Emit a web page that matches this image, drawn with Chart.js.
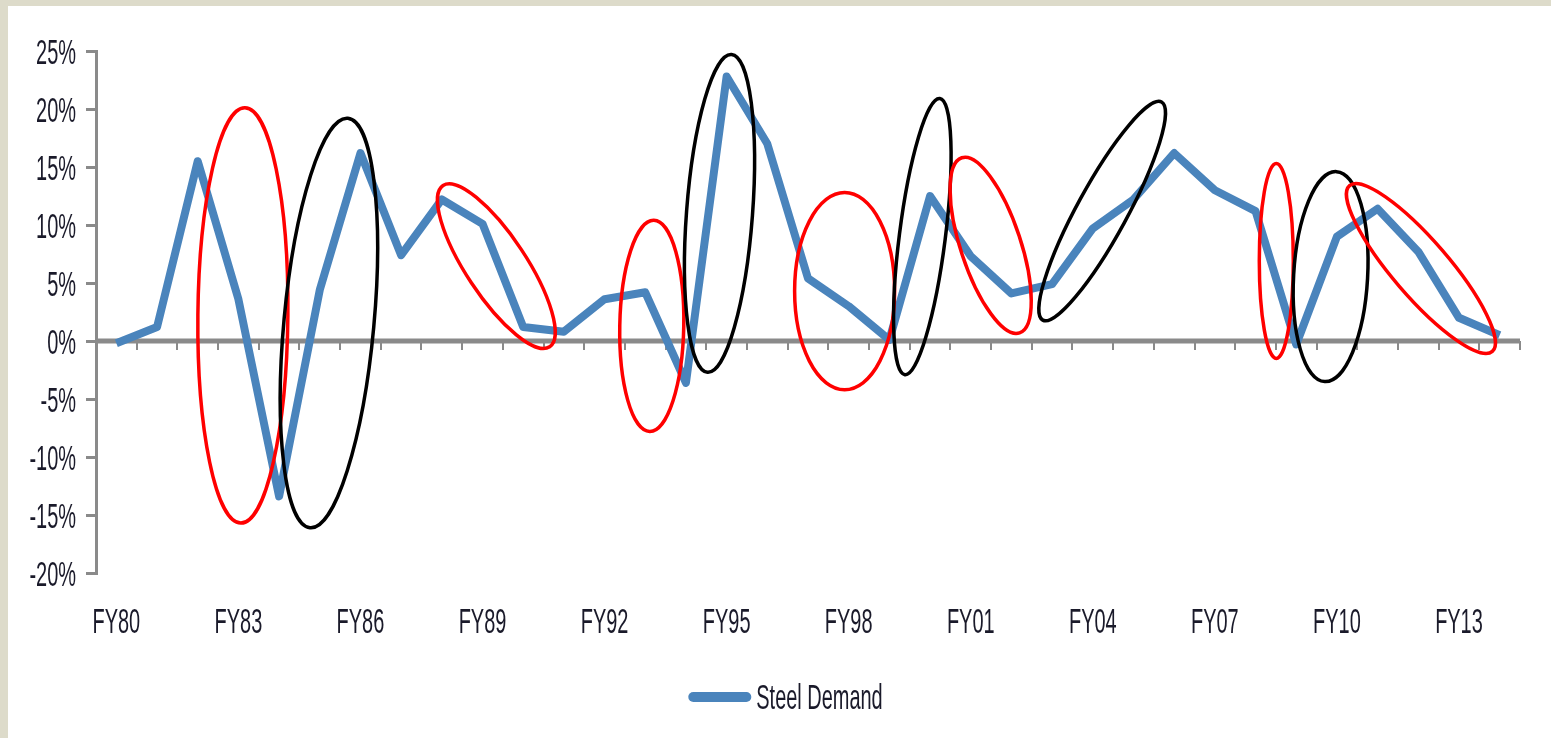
<!DOCTYPE html>
<html>
<head>
<meta charset="utf-8">
<script src="https://cdn.jsdelivr.net/npm/chart.js@4.4.1/dist/chart.umd.min.js"></script>
<style>
  html, body { margin: 0; padding: 0; background: #dddbca; overflow: hidden; }
  #panel { position: absolute; left: 8px; top: 6px; width: 1543px; height: 732px; background: #fff; }
</style>
</head>
<body>
<div id="panel"><canvas id="chart"></canvas></div>
<script>
// fiscal years on the x axis
const years = ['FY80', 'FY81', 'FY82', 'FY83', 'FY84', 'FY85', 'FY86', 'FY87', 'FY88', 'FY89',
  'FY90', 'FY91', 'FY92', 'FY93', 'FY94', 'FY95', 'FY96', 'FY97', 'FY98', 'FY99',
  'FY00', 'FY01', 'FY02', 'FY03', 'FY04', 'FY05', 'FY06', 'FY07', 'FY08', 'FY09',
  'FY10', 'FY11', 'FY12', 'FY13', 'FY14'];

// steel demand growth, % yoy
const steelDemand = [-0.2, 1.2, 15.5, 3.6, -13.4, 4.4, 16.2, 7.4, 12.2, 10.1,
  1.2, 0.8, 3.6, 4.2, -3.6, 22.8, 17.0, 5.4, 3.0, 0.1,
  12.5, 7.3, 4.1, 4.9, 9.7, 12.2, 16.2, 13.0, 11.2, -0.3,
  9.0, 11.4, 7.7, 2.0, 0.5];

const yMin = -20;
const yMax = 25;
const yStep = 5;
const labelEvery = 3;

// hand drawn rings: major axis from [category index, %] to [category index, %]
const ringFrom = [[3.16, 20.1], [5.69, 19.2], [8.03, 13.4], [13.21, 10.4], [15.12, 24.7], [17.9, 12.8],
  [20.24, 20.9], [20.78, 15.8], [25.69, 20.6], [28.51, 15.3], [29.99, 14.6], [30.31, 13.4]];
const ringTo = [[3.06, -15.7], [4.76, -16.1], [10.65, -0.5], [13.11, -7.8], [14.53, -2.7], [17.9, -4.2],
  [19.38, -2.9], [22.2, 0.7], [22.77, 1.8], [28.51, -1.5], [29.7, -3.5], [33.82, -0.9]];
const ringHalfWidth = [45, 45, 30, 32, 33, 50, 23, 30, 25, 17, 37, 28];
const ringColor = ['red', 'black', 'red', 'red', 'black', 'red', 'black', 'red', 'black', 'red', 'black', 'red'];

const BLUE = '#4a84bc';
const GREY = '#8a8a8a';
const TEXT = '#1a1a2a';
// the original uses a tall narrow face, so the text is squeezed sideways
const LABEL_FONT = '35px "Liberation Sans", Arial, sans-serif';
const SQUEEZE = 0.57;

function squeezedText(ctx, text, x, y, align) {
  ctx.save();
  ctx.translate(x, y);
  ctx.scale(SQUEEZE, 1);
  ctx.font = LABEL_FONT;
  ctx.fillStyle = TEXT;
  ctx.textAlign = align;
  ctx.textBaseline = 'alphabetic';
  ctx.fillText(text, 0, 0);
  ctx.restore();
}

// zero line with its small category ticks
const zeroAxis = {
  id: 'zeroAxis',
  beforeDatasetsDraw(chart) {
    const { ctx, chartArea, scales } = chart;
    const y0 = scales.y.getPixelForValue(0);
    const step = scales.x.getPixelForValue(1) - scales.x.getPixelForValue(0);
    ctx.save();
    ctx.strokeStyle = GREY;
    ctx.lineWidth = 2;
    ctx.beginPath();
    for (let i = 0; i <= years.length; i++) {
      const x = Math.round(scales.x.getPixelForValue(i) - step / 2);
      ctx.moveTo(x, y0);
      ctx.lineTo(x, y0 + 9);
    }
    ctx.stroke();
    ctx.lineWidth = 5;
    ctx.beginPath();
    ctx.moveTo(chartArea.left, y0);
    ctx.lineTo(chartArea.right, y0);
    ctx.stroke();
    ctx.restore();
  }
};

const rings = {
  id: 'rings',
  afterDatasetsDraw(chart) {
    const { ctx, scales } = chart;
    ctx.save();
    ctx.lineWidth = 3.5;
    ringFrom.forEach((a, i) => {
      const b = ringTo[i];
      const x1 = scales.x.getPixelForValue(a[0]), y1 = scales.y.getPixelForValue(a[1]);
      const x2 = scales.x.getPixelForValue(b[0]), y2 = scales.y.getPixelForValue(b[1]);
      const half = Math.hypot(x2 - x1, y2 - y1) / 2;
      ctx.strokeStyle = ringColor[i];
      ctx.beginPath();
      ctx.ellipse((x1 + x2) / 2, (y1 + y2) / 2, half, ringHalfWidth[i], Math.atan2(y2 - y1, x2 - x1), 0, Math.PI * 2);
      ctx.stroke();
    });
    ctx.restore();
  }
};

// tick labels and legend, drawn with the squeezed face
const labels = {
  id: 'labels',
  afterDraw(chart) {
    const { ctx, chartArea, scales } = chart;
    scales.y.ticks.forEach(t => {
      squeezedText(ctx, t.label, chartArea.left - 20, scales.y.getPixelForValue(t.value) + 12.5, 'right');
    });
    scales.x.ticks.forEach((t, i) => {
      if (t.label) squeezedText(ctx, t.label, scales.x.getPixelForTick(i), chartArea.bottom + 60, 'center');
    });

    const ds = chart.data.datasets[0];
    ctx.save();
    ctx.font = LABEL_FONT;
    const textW = ctx.measureText(ds.label).width * SQUEEZE;
    ctx.restore();
    const sampleW = 63, gap = 5;
    const left = chart.width / 2 + 6 - (sampleW + gap + textW) / 2;
    const cy = chartArea.bottom + 124;
    ctx.save();
    ctx.strokeStyle = ds.borderColor;
    ctx.lineWidth = 10;
    ctx.lineCap = 'round';
    ctx.beginPath();
    ctx.moveTo(left + 5, cy);
    ctx.lineTo(left + sampleW - 5, cy);
    ctx.stroke();
    ctx.restore();
    squeezedText(ctx, ds.label, left + sampleW + gap, cy + 12, 'left');
  }
};

new Chart(document.getElementById('chart'), {
  type: 'line',
  data: {
    labels: years,
    datasets: [{
      label: 'Steel Demand',
      data: steelDemand,
      borderColor: BLUE,
      backgroundColor: BLUE,
      borderWidth: 8,
      pointRadius: 0,
      tension: 0,
      borderJoinStyle: 'round',
      borderCapStyle: 'butt'
    }]
  },
  options: {
    responsive: true,
    maintainAspectRatio: false,
    animation: false,
    layout: { padding: { top: 45, right: 31, left: 0, bottom: 0 } },
    plugins: {
      tooltip: { enabled: false },
      legend: { display: false }
    },
    scales: {
      x: {
        offset: true,
        grid: { display: false, drawTicks: false },
        border: { display: false },
        ticks: {
          display: false,
          autoSkip: false,
          maxRotation: 0,
          callback(v, i) { return i % labelEvery === 0 ? years[i] : ''; }
        },
        afterFit(scale) { scale.height = 165; }
      },
      y: {
        min: yMin,
        max: yMax,
        grid: { drawOnChartArea: false, drawTicks: true, tickLength: 10, color: GREY, lineWidth: 3 },
        border: { display: true, color: GREY, width: 3 },
        ticks: {
          display: false,
          stepSize: yStep,
          callback(v) { return v + '%'; }
        },
        afterFit(scale) { scale.width = 88; }
      }
    }
  },
  plugins: [zeroAxis, rings, labels]
});
</script>
</body>
</html>
